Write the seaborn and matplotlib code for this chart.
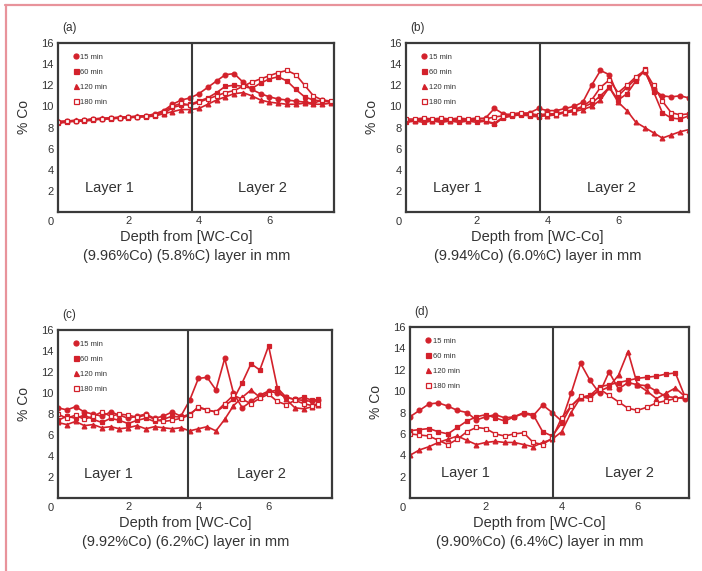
import matplotlib
matplotlib.use("Agg")
import matplotlib.pyplot as plt
from matplotlib.lines import Line2D
import seaborn as sns

# ---------------- data: % Co versus depth (mm) for four sintering times ----------------
times = ["15 min", "60 min", "120 min", "180 min"]

a_depth = [0.0, 0.25, 0.5, 0.75, 1.0, 1.25, 1.5, 1.75, 2.0, 2.25, 2.5, 2.75, 3.0, 3.25, 3.5, 3.75,
           4.0, 4.25, 4.5, 4.75, 5.0, 5.25, 5.5, 5.75, 6.0, 6.25, 6.5, 6.75, 7.0, 7.25, 7.5, 7.75]
a_15 = [8.5, 8.6, 8.6, 8.7, 8.8, 8.8, 8.9, 8.9, 9.0, 9.0, 9.1, 9.3, 9.6, 10.2, 10.6, 10.8,
        11.2, 11.8, 12.4, 13.0, 13.1, 12.3, 11.6, 11.2, 10.9, 10.7, 10.6, 10.5, 10.4, 10.3, 10.6, 10.4]
a_60 = [8.4, 8.5, 8.6, 8.6, 8.7, 8.8, 8.8, 8.9, 8.9, 9.0, 9.0, 9.1, 9.3, 9.9, 10.1, 10.2,
        10.5, 10.8, 11.3, 11.9, 12.0, 11.9, 11.7, 12.2, 12.6, 12.8, 12.4, 11.6, 10.9, 10.6, 10.5, 10.4]
a_120 = [8.6, 8.6, 8.7, 8.7, 8.8, 8.9, 8.9, 9.0, 9.0, 9.1, 9.1, 9.2, 9.3, 9.5, 9.7, 9.7,
         9.8, 10.2, 10.6, 10.9, 11.2, 11.3, 11.0, 10.6, 10.4, 10.3, 10.2, 10.2, 10.3, 10.2, 10.2, 10.3]
a_180 = [8.5, 8.6, 8.6, 8.7, 8.8, 8.8, 8.9, 8.9, 9.0, 9.0, 9.1, 9.2, 9.5, 10.0, 10.3, 10.1,
         10.4, 10.7, 11.0, 11.3, 11.5, 11.9, 12.3, 12.6, 12.9, 13.2, 13.4, 13.0, 12.0, 11.0, 10.6, 10.5]

b_depth = [0.0, 0.25, 0.5, 0.75, 1.0, 1.25, 1.5, 1.75, 2.0, 2.25, 2.5, 2.75, 3.0, 3.25, 3.5, 3.75,
           4.0, 4.25, 4.5, 4.75, 5.0, 5.25, 5.5, 5.75, 6.0, 6.25, 6.5, 6.75, 7.0, 7.25, 7.5, 7.75, 8.0]
b_15 = [8.6, 8.7, 8.8, 8.7, 8.8, 8.7, 8.8, 8.7, 8.8, 8.9, 9.8, 9.3, 9.2, 9.3, 9.4, 9.8,
        9.6, 9.6, 9.8, 10.0, 10.4, 12.0, 13.4, 13.0, 11.0, 11.8, 12.6, 13.3, 11.6, 11.0, 10.9, 11.0, 10.8]
b_60 = [8.5, 8.6, 8.5, 8.6, 8.5, 8.6, 8.5, 8.6, 8.5, 8.6, 8.3, 8.9, 9.1, 9.2, 9.1, 9.0,
        9.2, 9.3, 9.4, 9.6, 9.9, 10.3, 11.0, 11.8, 10.6, 11.2, 12.4, 13.5, 11.4, 9.4, 8.9, 8.8, 9.1]
b_120 = [8.7, 8.6, 8.7, 8.6, 8.7, 8.6, 8.7, 8.6, 8.7, 8.6, 8.4, 9.0, 9.2, 9.3, 9.2, 9.1,
         9.1, 9.2, 9.4, 9.5, 9.7, 10.0, 10.6, 11.8, 10.4, 9.6, 8.5, 8.0, 7.5, 7.0, 7.3, 7.6, 7.8]
b_180 = [8.8, 8.8, 8.9, 8.8, 8.9, 8.8, 8.9, 8.8, 8.9, 8.8, 9.0, 9.1, 9.3, 9.4, 9.3, 9.2,
         9.3, 9.3, 9.5, 9.7, 10.0, 10.6, 11.8, 12.5, 11.3, 12.0, 12.8, 13.4, 12.0, 10.5, 9.4, 9.2, 9.3]

c_depth = [0.0, 0.25, 0.5, 0.75, 1.0, 1.25, 1.5, 1.75, 2.0, 2.25, 2.5, 2.75, 3.0, 3.25, 3.5, 3.75,
           4.0, 4.25, 4.5, 4.75, 5.0, 5.25, 5.5, 5.75, 6.0, 6.25, 6.5, 6.75, 7.0, 7.25, 7.4]
c_15 = [8.6, 8.4, 8.7, 8.2, 8.0, 7.8, 8.2, 7.9, 7.6, 7.8, 8.0, 7.6, 7.8, 8.2, 7.8, 9.3,
        11.4, 11.5, 10.3, 13.3, 10.0, 8.6, 9.2, 9.8, 10.2, 10.0, 9.6, 9.4, 9.3, 9.2, 9.3]
c_60 = [7.4, 7.8, 7.6, 7.9, 7.5, 7.2, 7.6, 7.4, 7.1, 7.4, 7.6, 7.3, 7.5, 7.8, 7.7, 8.0,
        8.6, 8.4, 8.2, 8.8, 9.4, 11.0, 12.8, 12.2, 14.5, 10.5, 9.6, 9.4, 9.6, 9.3, 9.4]
c_120 = [7.2, 7.0, 7.3, 6.9, 7.0, 6.7, 6.8, 6.6, 6.7, 6.9, 6.6, 6.8, 6.7, 6.6, 6.7, 6.4,
         6.6, 6.8, 6.4, 7.5, 8.8, 9.6, 10.3, 9.6, 10.1, 10.3, 9.4, 8.6, 8.5, 8.7, 8.9]
c_180 = [8.0, 7.6, 7.9, 7.5, 7.8, 8.2, 7.8, 8.0, 7.9, 7.7, 7.9, 7.5, 7.3, 7.4, 7.6, 7.9,
         8.7, 8.4, 8.2, 9.0, 9.8, 9.4, 9.0, 9.5, 9.9, 9.2, 8.9, 9.3, 9.0, 8.8, 9.0]

d_depth = [0.0, 0.25, 0.5, 0.75, 1.0, 1.25, 1.5, 1.75, 2.0, 2.25, 2.5, 2.75, 3.0, 3.25, 3.5, 3.75,
           4.0, 4.25, 4.5, 4.75, 5.0, 5.25, 5.5, 5.75, 6.0, 6.25, 6.5, 6.75, 7.0, 7.25]
d_15 = [7.6, 8.2, 8.8, 8.9, 8.6, 8.2, 8.0, 7.3, 7.6, 7.8, 7.5, 7.6, 7.9, 7.7, 8.7, 8.0,
        7.2, 9.8, 12.6, 11.0, 9.8, 11.8, 10.2, 10.8, 10.6, 10.5, 10.0, 9.5, 9.4, 9.3]
d_60 = [6.3, 6.4, 6.5, 6.2, 6.0, 6.6, 7.2, 7.6, 7.8, 7.5, 7.2, 7.6, 8.0, 7.8, 6.2, 5.8,
        7.0, 8.6, 9.4, 9.6, 10.4, 10.6, 10.8, 11.0, 11.2, 11.3, 11.4, 11.6, 11.7, 9.5]
d_120 = [4.0, 4.5, 4.8, 5.2, 5.5, 5.8, 5.4, 5.0, 5.2, 5.3, 5.2, 5.2, 5.0, 4.8, 5.2, 5.5,
         6.2, 8.0, 9.4, 9.6, 10.0, 10.4, 11.5, 13.7, 10.6, 10.0, 9.3, 9.8, 10.3, 9.5]
d_180 = [6.0, 5.9, 5.8, 5.4, 5.0, 5.5, 6.2, 6.6, 6.5, 6.0, 5.8, 6.0, 6.1, 5.2, 5.0, 5.6,
         7.5, 8.6, 9.5, 9.3, 10.2, 9.6, 9.0, 8.4, 8.2, 8.5, 8.9, 9.1, 9.3, 9.5]

panel_tags = ["(a)", "(b)", "(c)", "(d)"]
compositions = ["(9.96%Co) (5.8%C) layer in mm", "(9.94%Co) (6.0%C) layer in mm",
                "(9.92%Co) (6.2%C) layer in mm", "(9.90%Co) (6.4%C) layer in mm"]
boundaries = [3.8, 3.8, 3.7, 3.76]
x_max = [7.83, 8.0, 7.8, 7.35]

# ---------------- styling ----------------
sns.set_style("white")
plt.rcParams["font.family"] = ["Liberation Sans", "DejaVu Sans"]

RED = "#d3212b"
FRAME = "#3a3a3a"
TEXT = "#333333"
markers = ["o", "s", "^", "s"]
faces = [RED, RED, RED, "white"]

fig = plt.figure(figsize=(7.02, 5.71), dpi=100)

rects = [
    [0.0826, 0.6287, 0.393, 0.296],
    [0.5783, 0.6287, 0.403, 0.296],
    [0.0826, 0.1278, 0.390, 0.294],
    [0.5840, 0.1278, 0.397, 0.2995],
]
depths = [a_depth, b_depth, c_depth, d_depth]
series = [[a_15, a_60, a_120, a_180], [b_15, b_60, b_120, b_180],
          [c_15, c_60, c_120, c_180], [d_15, d_60, d_120, d_180]]

for i in range(4):
    ax = fig.add_axes(rects[i])
    width_px = rects[i][2] * 702
    for ys, mk, fc in zip(series[i], markers, faces):
        sns.lineplot(x=depths[i], y=ys, ax=ax, color=RED, marker=mk, markersize=3.4,
                     markerfacecolor=fc, markeredgecolor=RED, markeredgewidth=0.9,
                     linewidth=1.2, sort=False, estimator=None, legend=False)
    ax.axvline(boundaries[i], color=FRAME, lw=1.5, zorder=5)
    ax.set_xlim(0, x_max[i])
    ax.set_ylim(0, 16)
    ax.set_xticks([2, 4, 6])
    ax.set_yticks(list(range(2, 17, 2)))
    ax.tick_params(direction="in", length=4, width=1.2, color=FRAME,
                   labelcolor=TEXT, labelsize=8, pad=3)
    for sp in ax.spines.values():
        sp.set_color(FRAME)
        sp.set_linewidth(1.6)
    ax.annotate("0", xy=(0, 0), xycoords="data", xytext=(-5, -7.5),
                textcoords="offset points", ha="center", va="center",
                fontsize=8, color=TEXT)
    ax.set_xlabel("")
    ax.set_ylabel("% Co", fontsize=10, color=TEXT)
    ax.yaxis.set_label_coords(-27 / width_px, 0.56)
    ax.text(0.015, 1.09, panel_tags[i], transform=ax.transAxes, ha="left",
            va="center", fontsize=8.5, color=TEXT)
    ax.text(1.45, 2.3, "Layer 1", ha="center", va="center", fontsize=10.5, color=TEXT)
    ax.text(5.8, 2.3, "Layer 2", ha="center", va="center", fontsize=10.5, color=TEXT)
    ax.text(0.465, -0.105, "Depth from [WC-Co]\n" + compositions[i], transform=ax.transAxes,
            ha="center", va="top", fontsize=10.5, color=TEXT, linespacing=1.45)
    handles = [Line2D([], [], ls="none", marker=mk, markersize=3.6, color=RED,
                      markerfacecolor=fc, markeredgecolor=RED, markeredgewidth=0.9)
               for mk, fc in zip(markers, faces)]
    leg = ax.legend(handles, times, loc="upper left", bbox_to_anchor=(0.04, 0.965),
                    frameon=False, fontsize=5.5, handlelength=0.6, handletextpad=0.3,
                    labelspacing=1.0, borderaxespad=0.2)
    for t in leg.get_texts():
        t.set_color(TEXT)

# thin page border along the top and the left edge
fig.add_artist(Line2D([5 / 702, 1.0], [1 - 4.5 / 571] * 2, transform=fig.transFigure,
                      color="#e8939b", lw=1.6))
fig.add_artist(Line2D([5.5 / 702] * 2, [0.0, 1 - 4.5 / 571], transform=fig.transFigure,
                      color="#e8939b", lw=1.6))

fig.savefig("out.png", dpi=100)
